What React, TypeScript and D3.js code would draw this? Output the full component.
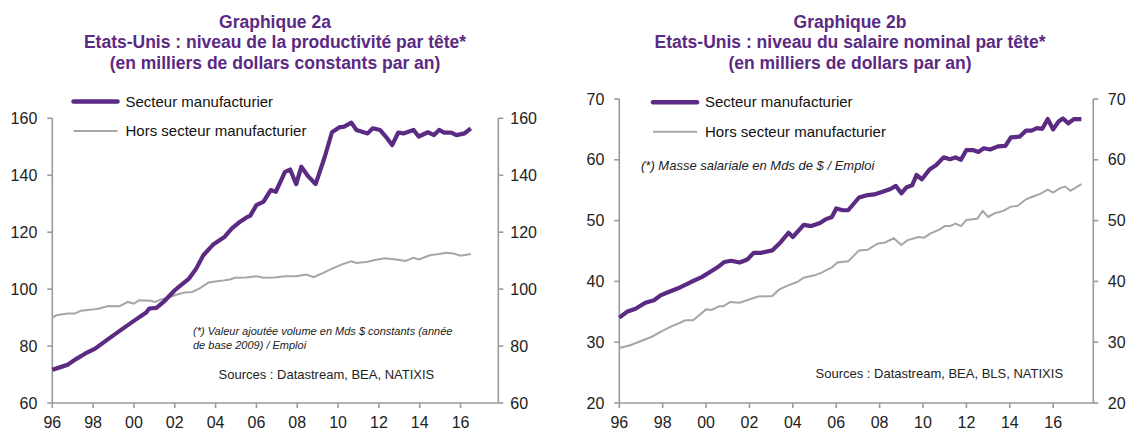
import React from "react";
import * as d3 from "d3";

// Graphique 2a : productivité par tête (milliers de $ constants)
const prodManu: [number, number][] = [
  [1996.0, 71.7], [1996.4, 72.6], [1996.75, 73.4], [1997.2, 75.6], [1997.6, 77.3],
  [1998.1, 79.1], [1998.65, 82.0], [1999.35, 85.6], [2000.05, 89.1], [2000.6, 91.8],
  [2000.75, 93.2], [2001.1, 93.4], [2001.45, 95.5], [2002.0, 99.6], [2002.35, 101.7],
  [2002.7, 103.7], [2003.05, 107.2], [2003.4, 111.9], [2003.9, 115.8], [2004.45, 118.4],
  [2004.8, 121.3], [2005.2, 123.7], [2005.5, 125.1], [2005.7, 125.8], [2006.0, 129.5],
  [2006.35, 130.7], [2006.7, 134.8], [2006.95, 134.2], [2007.4, 141.2], [2007.65, 142.0],
  [2007.95, 136.9], [2008.2, 143.0], [2008.55, 139.5], [2008.9, 136.9], [2009.35, 146.5],
  [2009.7, 155.1], [2010.05, 156.8], [2010.3, 157.1], [2010.65, 158.5], [2010.9, 155.9],
  [2011.45, 154.7], [2011.7, 156.5], [2012.05, 155.9], [2012.4, 153.0], [2012.65, 150.6],
  [2012.95, 155.0], [2013.2, 154.7], [2013.7, 155.9], [2013.95, 153.6], [2014.4, 155.1],
  [2014.7, 154.1], [2014.95, 155.9], [2015.2, 155.0], [2015.55, 155.0], [2015.8, 154.1],
  [2016.2, 154.7], [2016.5, 156.5],
];

const prodHors: [number, number][] = [
  [1996.0, 90.0], [1996.2, 90.8], [1996.75, 91.4], [1997.1, 91.4], [1997.4, 92.4],
  [1997.95, 92.8], [1998.3, 93.2], [1998.75, 94.1], [1999.3, 94.0], [1999.7, 95.5],
  [2000.0, 94.9], [2000.25, 96.1], [2000.8, 95.9], [2001.05, 95.5], [2001.3, 96.3],
  [2001.8, 97.3], [2002.15, 98.2], [2002.5, 98.8], [2002.85, 99.0], [2003.2, 100.2],
  [2003.65, 102.3], [2003.9, 102.6], [2004.25, 102.9], [2004.7, 103.4], [2004.95, 104.0],
  [2005.5, 104.1], [2006.0, 104.5], [2006.35, 104.0], [2006.9, 104.1], [2007.4, 104.5],
  [2007.95, 104.5], [2008.45, 105.1], [2008.8, 104.2], [2009.15, 105.3], [2009.7, 107.2],
  [2010.2, 108.7], [2010.65, 109.8], [2010.9, 109.2], [2011.45, 109.6], [2011.8, 110.2],
  [2012.3, 110.8], [2012.85, 110.4], [2013.3, 109.9], [2013.7, 111.0], [2013.95, 110.4],
  [2014.5, 111.9], [2014.95, 112.3], [2015.3, 112.8], [2015.65, 112.5], [2016.0, 111.7],
  [2016.5, 112.3],
];

// Graphique 2b : salaire nominal par tête (milliers de $)
const salManu: [number, number][] = [
  [1996.0, 34.05], [1996.35, 35.0], [1996.75, 35.5], [1997.2, 36.5], [1997.6, 36.9],
  [1997.9, 37.7], [1998.3, 38.3], [1998.8, 39.0], [1999.3, 39.9], [1999.8, 40.7],
  [2000.2, 41.6], [2000.6, 42.5], [2000.85, 43.2], [2001.15, 43.4], [2001.55, 43.1],
  [2001.9, 43.6], [2002.2, 44.7], [2002.55, 44.7], [2003.05, 45.1], [2003.45, 46.5],
  [2003.8, 48.0], [2004.0, 47.3], [2004.5, 49.3], [2004.85, 49.1], [2005.25, 49.6],
  [2005.5, 50.2], [2005.8, 50.6], [2006.0, 52.0], [2006.3, 51.7], [2006.55, 51.7],
  [2007.05, 53.8], [2007.45, 54.2], [2007.75, 54.3], [2008.1, 54.7], [2008.5, 55.2],
  [2008.75, 55.7], [2009.0, 54.5], [2009.25, 55.5], [2009.5, 55.8], [2009.7, 57.5],
  [2009.95, 56.8], [2010.3, 58.4], [2010.6, 59.1], [2010.95, 60.4], [2011.25, 60.1],
  [2011.5, 60.4], [2011.75, 60.0], [2012.0, 61.6], [2012.3, 61.6], [2012.55, 61.3],
  [2012.8, 61.9], [2013.1, 61.7], [2013.45, 62.2], [2013.8, 62.3], [2014.05, 63.7],
  [2014.45, 63.8], [2014.75, 64.8], [2015.0, 64.8], [2015.25, 65.2], [2015.5, 65.1],
  [2015.75, 66.7], [2016.0, 65.0], [2016.25, 66.3], [2016.45, 66.8], [2016.7, 66.0],
  [2016.95, 66.7], [2017.3, 66.7],
];

const salHors: [number, number][] = [
  [1996.0, 29.05], [1996.5, 29.5], [1997.0, 30.2], [1997.5, 30.9], [1997.9, 31.7],
  [1998.4, 32.6], [1998.8, 33.2], [1999.05, 33.6], [1999.4, 33.6], [1999.6, 34.2],
  [2000.0, 35.4], [2000.25, 35.3], [2000.6, 35.9], [2000.8, 35.9], [2001.1, 36.6],
  [2001.55, 36.5], [2002.05, 37.1], [2002.4, 37.5], [2003.05, 37.6], [2003.35, 38.6],
  [2003.75, 39.3], [2004.2, 39.9], [2004.5, 40.6], [2005.0, 41.0], [2005.3, 41.4],
  [2005.8, 42.3], [2006.05, 43.1], [2006.55, 43.3], [2007.05, 45.1], [2007.45, 45.2],
  [2007.9, 46.2], [2008.25, 46.4], [2008.65, 47.1], [2009.0, 46.0], [2009.3, 46.8],
  [2009.8, 47.3], [2010.05, 47.2], [2010.35, 47.9], [2010.75, 48.5], [2011.0, 49.1],
  [2011.25, 49.1], [2011.5, 49.5], [2011.75, 49.1], [2012.0, 50.1], [2012.5, 50.3],
  [2012.75, 51.6], [2013.0, 50.6], [2013.3, 51.2], [2013.7, 51.6], [2014.05, 52.3],
  [2014.35, 52.4], [2014.75, 53.5], [2015.1, 54.0], [2015.4, 54.4], [2015.75, 55.1],
  [2016.0, 54.6], [2016.3, 55.3], [2016.55, 55.6], [2016.8, 54.9], [2017.3, 56.0],
];

const yearTicks = [1996, 1998, 2000, 2002, 2004, 2006, 2008, 2010, 2012, 2014, 2016];
const ticksA = [60, 80, 100, 120, 140, 160];
const ticksB = [20, 30, 40, 50, 60, 70];
const legendLabels = ["Secteur manufacturier", "Hors secteur manufacturier"];
const titleA = [
  "Graphique 2a",
  "Etats-Unis : niveau de la productivité par tête*",
  "(en milliers de dollars constants par an)",
];
const titleB = [
  "Graphique 2b",
  "Etats-Unis : niveau du salaire nominal par tête*",
  "(en milliers de dollars par an)",
];

const PURPLE = "#5b2a82";
const GREY = "#a6a6a6";
const AXIS = "#9a9a9a";
const FONT = "'Liberation Sans', Arial, sans-serif";

type PanelProps = {
  x0: number;
  x1: number;
  yTop: number;
  yDomain: [number, number];
  yTicks: number[];
  rightLabelGap: number;
  manu: [number, number][];
  hors: [number, number][];
  title: string[];
  titleX: number;
  legendX: number;
  legendY: number;
  children?: React.ReactNode;
};

function Panel(p: PanelProps) {
  const yBottom = 403;
  const x = d3.scaleLinear().domain([1996, 2017.85]).range([p.x0, p.x1]);
  const y = d3.scaleLinear().domain(p.yDomain).range([yBottom, p.yTop]);
  const line = d3
    .line<[number, number]>()
    .x((d) => x(d[0]))
    .y((d) => y(d[1]));

  return (
    <g fontFamily={FONT}>
      {p.title.map((t, i) => (
        <text
          key={i}
          x={p.titleX}
          y={27.5 + i * 20.6}
          textAnchor="middle"
          fontWeight="bold"
          fontSize={17.5}
          fill={PURPLE}
        >
          {t}
        </text>
      ))}

      {/* axes */}
      <g stroke={AXIS} strokeWidth={1.6} fill="none">
        <line x1={p.x0} x2={p.x0} y1={p.yTop} y2={yBottom} />
        <line x1={p.x1} x2={p.x1} y1={p.yTop} y2={yBottom} />
        <line x1={p.x0} x2={p.x1} y1={yBottom} y2={yBottom} />
        {p.yTicks.map((t) => (
          <g key={t}>
            <line x1={p.x0 - 5} x2={p.x0} y1={y(t)} y2={y(t)} />
            <line x1={p.x1} x2={p.x1 + 5} y1={y(t)} y2={y(t)} />
          </g>
        ))}
        {yearTicks.map((t) => (
          <line key={t} x1={x(t)} x2={x(t)} y1={yBottom} y2={yBottom + 5} />
        ))}
      </g>
      {p.yTicks.map((t) => (
        <g key={t} fontSize={16} fill="#222">
          <text x={p.x0 - 15} y={y(t)} dy="0.35em" textAnchor="end">
            {t}
          </text>
          <text x={p.x1 + p.rightLabelGap} y={y(t)} dy="0.35em" textAnchor="start">
            {t}
          </text>
        </g>
      ))}
      {yearTicks.map((t) => (
        <text key={t} x={x(t)} y={428} textAnchor="middle" fontSize={16} fill="#222">
          {String(t % 100).padStart(2, "0")}
        </text>
      ))}

      {/* series */}
      <path d={line(p.hors) ?? ""} fill="none" stroke={GREY} strokeWidth={2} />
      <path
        d={line(p.manu) ?? ""}
        fill="none"
        stroke={PURPLE}
        strokeWidth={4.2}
        strokeLinejoin="round"
      />

      {/* legend */}
      <line
        x1={p.legendX}
        x2={p.legendX + 44}
        y1={p.legendY}
        y2={p.legendY}
        stroke={PURPLE}
        strokeWidth={4.5}
        strokeLinecap="round"
      />
      <text x={p.legendX + 52} y={p.legendY + 5} fontSize={15} fill="#111">
        {legendLabels[0]}
      </text>
      <line
        x1={p.legendX}
        x2={p.legendX + 44}
        y1={p.legendY + 29.5}
        y2={p.legendY + 29.5}
        stroke={GREY}
        strokeWidth={2}
      />
      <text x={p.legendX + 52} y={p.legendY + 34.5} fontSize={15} fill="#111">
        {legendLabels[1]}
      </text>
      {p.children}
    </g>
  );
}

export default function App() {
  return (
    <svg
      width={1126}
      height={430}
      viewBox="0 0 1126 430"
      style={{ position: "absolute", left: 0, top: 0, background: "#fff" }}
    >
      <rect width={1126} height={430} fill="#fff" />
      <Panel
        x0={52.3}
        x1={498.3}
        yTop={118.3}
        yDomain={[60, 160]}
        yTicks={ticksA}
        rightLabelGap={12}
        manu={prodManu}
        hors={prodHors}
        title={titleA}
        titleX={275}
        legendX={73.5}
        legendY={101.5}
      >
        <g fontFamily={FONT} fontStyle="italic" fontSize={11} fill="#222">
          <text x={193} y={335}>
            (*) Valeur ajoutée volume en Mds $ constants (année
          </text>
          <text x={193} y={348.5}>
            de base 2009) / Emploi
          </text>
        </g>
        <text x={218.5} y={378.5} fontFamily={FONT} fontSize={13} fill="#222">
          Sources : Datastream, BEA, NATIXIS
        </text>
      </Panel>
      <Panel
        x0={619.3}
        x1={1093.3}
        yTop={99}
        yDomain={[20, 70]}
        yTicks={ticksB}
        rightLabelGap={14.5}
        manu={salManu}
        hors={salHors}
        title={titleB}
        titleX={850}
        legendX={653}
        legendY={102.3}
      >
        <text
          x={641}
          y={170}
          fontFamily={FONT}
          fontStyle="italic"
          fontSize={13}
          fill="#222"
        >
          (*) Masse salariale en Mds de $ / Emploi
        </text>
        <text x={815.5} y={378} fontFamily={FONT} fontSize={13} fill="#222">
          Sources : Datastream, BEA, BLS, NATIXIS
        </text>
      </Panel>
    </svg>
  );
}
